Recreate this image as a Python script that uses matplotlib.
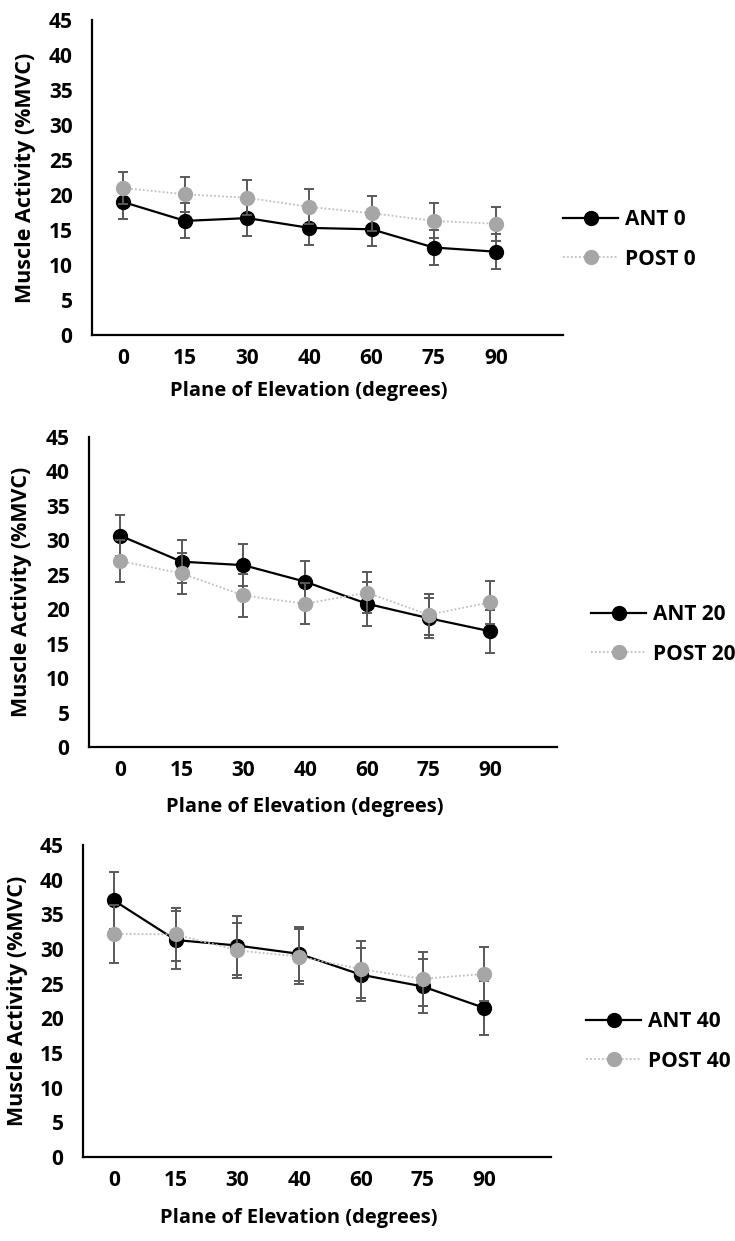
import numpy as np
import matplotlib
matplotlib.use("Agg")
import matplotlib.pyplot as plt

plt.rcParams['font.family'] = ['Open Sans', 'DejaVu Sans']
plt.rcParams['font.weight'] = 'bold'

# plane of elevation categories
planes = ['0', '15', '30', '40', '60', '75', '90']

# muscle activity (%MVC), mean and error, for each elevation angle
ant_0 = [19.0, 16.3, 16.7, 15.3, 15.1, 12.5, 11.9]
ant_0_err = [2.4, 2.5, 2.5, 2.4, 2.4, 2.5, 2.5]
post_0 = [21.0, 20.1, 19.6, 18.3, 17.4, 16.3, 15.9]
post_0_err = [2.3, 2.5, 2.5, 2.5, 2.5, 2.5, 2.4]

ant_20 = [30.7, 26.9, 26.4, 24.0, 20.8, 18.7, 16.8]
ant_20_err = [3.0, 3.1, 3.0, 3.0, 3.2, 2.9, 3.1]
post_20 = [27.0, 25.2, 22.0, 20.8, 22.4, 19.2, 21.0]
post_20_err = [3.1, 3.0, 3.1, 3.0, 3.0, 3.0, 3.1]

ant_40 = [37.0, 31.3, 30.5, 29.3, 26.3, 24.6, 21.5]
ant_40_err = [4.1, 4.2, 4.2, 3.9, 3.8, 3.9, 3.9]
post_40 = [32.2, 32.1, 29.8, 28.9, 27.1, 25.7, 26.4]
post_40_err = [4.2, 3.8, 4.0, 4.0, 4.1, 3.9, 3.9]

panels = [
    ('0', ant_0, ant_0_err, post_0, post_0_err),
    ('20', ant_20, ant_20_err, post_20, post_20_err),
    ('40', ant_40, ant_40_err, post_40, post_40_err),
]

W, H = 735, 1241
fig = plt.figure(figsize=(W / 100, H / 100), dpi=100)

# axes boxes in pixels: left, right, top, bottom
boxes = [(92, 563, 20, 335), (89, 557, 437, 747), (83, 551, 845, 1157)]
# legend anchor (pixels): left of handle, top of first row
leg_pos = [(563, 209), (591, 604), (586, 1011)]
ylab_x = [-0.118, -0.122, -0.118]
xlab_y = [-0.145, -0.16, -0.165]

FS = 15
x = np.arange(len(planes))

for (angle, ant, ant_err, post, post_err), (l, r, t, b), (lx, ly), yx, xy in zip(
        panels, boxes, leg_pos, ylab_x, xlab_y):
    ax = fig.add_axes([l / W, 1 - b / H, (r - l) / W, (b - t) / H])

    ax.errorbar(x, ant, yerr=ant_err, fmt='none', ecolor='#595959',
                elinewidth=1.4, capsize=3.6, capthick=1.4, zorder=2)
    ax.plot(x, ant, color='black', lw=1.6, marker='o', markersize=10,
            markerfacecolor='black', markeredgecolor='black',
            label='ANT ' + angle, zorder=3)
    ax.errorbar(x, post, yerr=post_err, fmt='none', ecolor='#595959',
                elinewidth=1.4, capsize=3.6, capthick=1.4, zorder=4)
    ax.plot(x, post, color='#bfbfbf', lw=1.3, linestyle=(0, (1, 1.2)),
            marker='o', markersize=10, markerfacecolor='#a6a6a6',
            markeredgecolor='#a6a6a6', label='POST ' + angle, zorder=5)

    ax.set_xlim(-0.5, 7.08)
    ax.set_ylim(0, 45)
    ax.set_yticks(range(0, 46, 5))
    ax.set_xticks(x)
    ax.set_xticklabels(planes)
    ax.tick_params(axis='both', length=0, labelsize=FS)
    ax.tick_params(axis='y', pad=14)
    ax.tick_params(axis='x', pad=9)

    for s in ['top', 'right']:
        ax.spines[s].set_visible(False)
    for s in ['left', 'bottom']:
        ax.spines[s].set_linewidth(1.6)
        ax.spines[s].set_color('black')

    ax.set_ylabel('Muscle Activity (%MVC)', fontsize=15.5, fontweight='bold')
    ax.set_xlabel('Plane of Elevation (degrees)', fontsize=14.5, fontweight='bold')
    ax.yaxis.set_label_coords(yx, 0.5)
    ax.xaxis.set_label_coords(0.46, xy)

    ax.legend(loc='upper left', bbox_to_anchor=(lx / W, 1 - ly / H),
              bbox_transform=fig.transFigure, frameon=False, fontsize=FS,
              handlelength=2.65, handletextpad=0.32, labelspacing=0.9,
              borderpad=0, borderaxespad=0, numpoints=1)

fig.savefig('out.png', dpi=100)
